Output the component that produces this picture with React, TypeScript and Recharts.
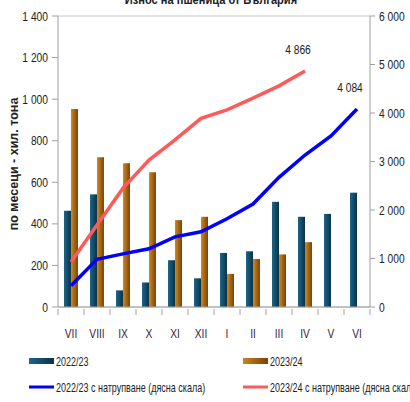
import React from "react";
import {
  ComposedChart,
  Bar,
  Line,
  XAxis,
  YAxis,
  CartesianGrid,
  LabelList,
} from "recharts";

const months = ["VII", "VIII", "IX", "X", "XI", "XII", "I", "II", "III", "IV", "V", "VI"];
const monthly2223 = [463, 542, 80, 118, 225, 138, 260, 268, 506, 434, 448, 550];
const monthly2324 = [952, 720, 691, 648, 418, 434, 159, 231, 253, 312, null, null];
const cum2223 = [440, 982, 1095, 1200, 1446, 1550, 1818, 2122, 2673, 3134, 3527, 4084];
const cum2324 = [930, 1690, 2450, 3031, 3444, 3890, 4064, 4306, 4560, 4866, null, null];
const leftTicks = [0, 200, 400, 600, 800, 1000, 1200, 1400];
const rightTicks = [0, 1000, 2000, 3000, 4000, 5000, 6000];

const data = months.map((m, i) => ({
  month: m,
  a: monthly2223[i],
  b: monthly2324[i],
  ca: cum2223[i],
  cb: cum2324[i],
}));

const FONT = "'Liberation Sans', Arial, sans-serif";
const fmt = (v: number) => v.toLocaleString("en-US").replace(/,/g, " ");

// squeezed text, the original uses a narrow font
const NarrowText = ({ x, y, anchor, children, size = 12.5, fill = "#222", bold = false, sq = 0.82 }: any) => (
  <text
    transform={`translate(${x},${y}) scale(${sq},1)`}
    textAnchor={anchor}
    fontSize={size}
    fontFamily={FONT}
    fontWeight={bold ? "bold" : "normal"}
    fill={fill}
  >
    {children}
  </text>
);

const XTick = (props: any) => {
  const { x, y, payload, index } = props;
  const half = 13;
  return (
    <g>
      <line x1={x - half} y1={y} x2={x - half} y2={y + 6} stroke="#a0a0a0" />
      {index === months.length - 1 && (
        <line x1={x + half} y1={y} x2={x + half} y2={y + 6} stroke="#a0a0a0" />
      )}
      <NarrowText x={x} y={y + 29} anchor="middle" fill="#3a1f40">
        {payload.value}
      </NarrowText>
    </g>
  );
};

const LeftTick = (props: any) => {
  const { x, y, payload } = props;
  return (
    <NarrowText x={x - 2} y={y + 4.5} anchor="end">
      {fmt(payload.value)}
    </NarrowText>
  );
};

const RightTick = (props: any) => {
  const { x, y, payload } = props;
  return (
    <NarrowText x={x + 2} y={y + 4.5} anchor="start">
      {fmt(payload.value)}
    </NarrowText>
  );
};

const EndLabel = (props: any) => {
  const { x, y, value, index, last } = props;
  if (index !== last || value == null) return null;
  return (
    <NarrowText x={x - 7} y={y - 17} anchor="middle">
      {fmt(value)}
    </NarrowText>
  );
};

const legendItems = [
  { label: "2022/23", kind: "bar", fill: "url(#lgA)", x: 29, y: 0 },
  { label: "2023/24", kind: "bar", fill: "url(#lgB)", x: 243, y: 0 },
  { label: "2022/23 с натрупване (дясна скала)", kind: "line", fill: "#0000ff", x: 29, y: 26 },
  { label: "2023/24 с натрупване (дясна скала)", kind: "line", fill: "#ff5a5a", x: 243, y: 26 },
];

const CustomLegend = () => (
  <svg width={410} height={50}>
    <defs>
      <linearGradient id="lgA" x1="0" y1="0" x2="1" y2="0">
        <stop offset="0%" stopColor="#1d6688" />
        <stop offset="100%" stopColor="#0a3247" />
      </linearGradient>
      <linearGradient id="lgB" x1="0" y1="0" x2="1" y2="0">
        <stop offset="0%" stopColor="#c98520" />
        <stop offset="100%" stopColor="#7a4206" />
      </linearGradient>
    </defs>
    {legendItems.map((it, i) => (
      <g key={i}>
        {it.kind === "bar" ? (
          <rect x={it.x} y={it.y + 5} width={25} height={6} fill={it.fill} />
        ) : (
          <line x1={it.x} y1={it.y + 8} x2={it.x + 25} y2={it.y + 8} stroke={it.fill} strokeWidth={3} />
        )}
        <NarrowText x={it.x + 27} y={it.y + 12.5} anchor="start" size={12.5} sq={0.72}>
          {it.label}
        </NarrowText>
      </g>
    ))}
  </svg>
);

export default function App() {
  return (
    <div style={{ position: "absolute", left: 0, top: 0, width: 410, height: 402, background: "#fff" }}>
      <svg width={410} height={402} style={{ position: "absolute", left: 0, top: 0 }}>
        <NarrowText x={211} y={4} anchor="middle" size={13.5} bold>
          Износ на пшеница от България
        </NarrowText>
        <g transform="translate(18,164) rotate(-90)">
          <text textAnchor="middle" fontSize={12.5} fontFamily={FONT} fontWeight="bold" fill="#222">
            по месеци - хил. тона
          </text>
        </g>
      </svg>
      <div style={{ position: "absolute", left: 0, top: 353 }}>
        <CustomLegend />
      </div>
      <div style={{ position: "absolute", left: 0, top: 0 }}>
        <ComposedChart
          width={410}
          height={402}
          data={data}
          margin={{ top: 16, right: 0, left: 18, bottom: 65 }}
          barGap={0}
          barCategoryGap="23%"
        >
          <defs>
            <linearGradient id="gA" x1="0" y1="0" x2="1" y2="0">
              <stop offset="0%" stopColor="#1d6688" />
              <stop offset="100%" stopColor="#0a3247" />
            </linearGradient>
            <linearGradient id="gB" x1="0" y1="0" x2="1" y2="0">
              <stop offset="0%" stopColor="#d08a22" />
              <stop offset="100%" stopColor="#7a4206" />
            </linearGradient>
          </defs>
          <CartesianGrid vertical={false} stroke="#c8c8c8" strokeWidth={1.2} />
          <XAxis
            dataKey="month"
            height={30}
            tickLine={false}
            tickSize={0}
            axisLine={{ stroke: "#a0a0a0" }}
            tick={<XTick />}
            interval={0}
          />
          <YAxis
            yAxisId="left"
            width={40}
            domain={[0, 1400]}
            ticks={leftTicks}
            axisLine={{ stroke: "#a0a0a0" }}
            tickLine={{ stroke: "#a0a0a0" }}
            tickSize={6}
            tick={<LeftTick />}
          />
          <YAxis
            yAxisId="right"
            orientation="right"
            width={40}
            domain={[0, 6000]}
            ticks={rightTicks}
            axisLine={{ stroke: "#a0a0a0" }}
            tickLine={{ stroke: "#a0a0a0" }}
            tickSize={5}
            tick={<RightTick />}
          />
          <Bar yAxisId="left" dataKey="a" fill="url(#gA)" isAnimationActive={false} />
          <Bar yAxisId="left" dataKey="b" fill="url(#gB)" isAnimationActive={false} />
          <Line
            yAxisId="right"
            dataKey="ca"
            stroke="#0000ff"
            strokeWidth={3.5}
            dot={false}
            type="linear"
            isAnimationActive={false}
          >
            <LabelList dataKey="ca" content={(p: any) => <EndLabel {...p} last={11} />} />
          </Line>
          <Line
            yAxisId="right"
            dataKey="cb"
            stroke="#ff5a5a"
            strokeWidth={3.5}
            dot={false}
            type="linear"
            isAnimationActive={false}
          >
            <LabelList dataKey="cb" content={(p: any) => <EndLabel {...p} last={9} />} />
          </Line>
        </ComposedChart>
      </div>
    </div>
  );
}
